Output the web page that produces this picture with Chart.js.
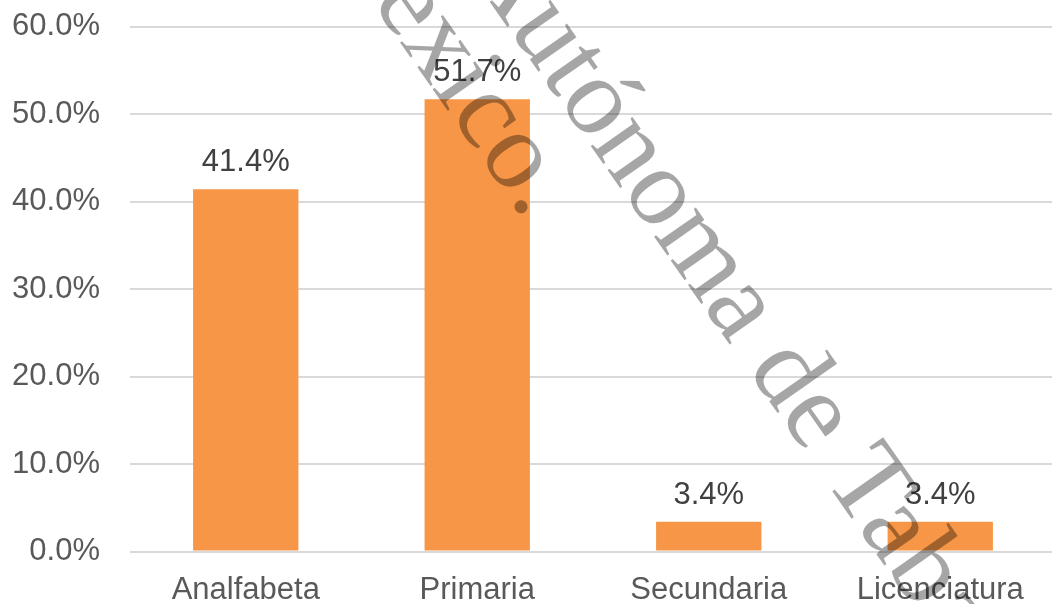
<!DOCTYPE html>
<html>
<head>
<meta charset="utf-8">
<script src="https://cdn.jsdelivr.net/npm/chart.js@4"></script>
<style>
  html, body { margin: 0; padding: 0; background: #fff; overflow: hidden; }
  #wrap { width: 1052px; height: 604px; overflow: hidden; }
  #canvas { display: block; margin-top: -22px; }
</style>
</head>
<body>
<div id="wrap"><canvas id="canvas" width="1056" height="626"></canvas></div>
<script>
var categories = ['Analfabeta', 'Primaria', 'Secundaria', 'Licenciatura'];
var percentages = [41.4, 51.7, 3.4, 3.4];
var yMax = 60;
var yStep = 10;

var markLines = ['Universidad Juárez Autónoma de Tabasco', 'México.'];

var labelFont = '"Liberation Sans", Arial, sans-serif';
var canvasShift = 22; // canvas is pulled up by this much in the page

// value on top of each bar
var barValues = {
    id: 'barValues',
    afterDatasetsDraw: function (chart) {
        var ctx = chart.ctx;
        var meta = chart.getDatasetMeta(0);
        ctx.save();
        ctx.font = '31px ' + labelFont;
        ctx.fillStyle = '#404040';
        ctx.textAlign = 'center';
        ctx.textBaseline = 'alphabetic';
        meta.data.forEach(function (bar, i) {
            ctx.fillText(percentages[i].toFixed(1) + '%', bar.x, bar.y - 18);
        });
        ctx.restore();
    }
};

// diagonal stamp across the page
var stamp = {
    id: 'stamp',
    afterDraw: function (chart) {
        var ctx = chart.ctx;
        var size = 111;
        var angle = 55 * Math.PI / 180;
        ctx.save();
        ctx.font = size + 'px "Liberation Serif", "Times New Roman", serif';
        ctx.fillStyle = 'rgba(0,0,0,0.35)';
        ctx.textBaseline = 'alphabetic';
        function put(text, idx, cx, cy) {
            var pre = ctx.measureText(text.slice(0, idx)).width;
            var w = ctx.measureText(text.charAt(idx)).width;
            ctx.save();
            ctx.translate(cx, cy + canvasShift);
            ctx.rotate(angle);
            ctx.fillText(text, -pre - w / 2, 0.23 * size);
            ctx.restore();
        }
        put(markLines[0], markLines[0].indexOf('tónoma') + 2, 626, 152);
        put(markLines[1], markLines[1].indexOf('co.'), 484, 118);
        ctx.restore();
    }
};

var ctx = document.getElementById('canvas').getContext('2d');
window.LevelChart = new Chart(ctx, {
    type: 'bar',
    data: {
        labels: categories,
        datasets: [{
            data: percentages,
            backgroundColor: '#F79646',
            barPercentage: 0.455,
            categoryPercentage: 1
        }]
    },
    options: {
        responsive: false,
        animation: false,
        plugins: {
            legend: { display: false },
            tooltip: { enabled: false }
        },
        scales: {
            x: {
                grid: { display: false, drawTicks: false },
                border: { display: false },
                ticks: {
                    color: '#595959',
                    padding: 20,
                    font: { family: labelFont, size: 31 }
                },
                afterFit: function (scale) { scale.height = 52.5; }
            },
            y: {
                min: 0,
                max: yMax,
                grid: { color: '#d9d9d9', lineWidth: 2, drawTicks: false },
                border: { display: false },
                ticks: {
                    stepSize: yStep,
                    color: '#595959',
                    padding: 30,
                    font: { family: labelFont, size: 31 },
                    callback: function (v) { return v.toFixed(1) + '%'; }
                },
                afterFit: function (scale) { scale.width = 130; }
            }
        }
    },
    plugins: [barValues, stamp]
});
</script>
</body>
</html>
